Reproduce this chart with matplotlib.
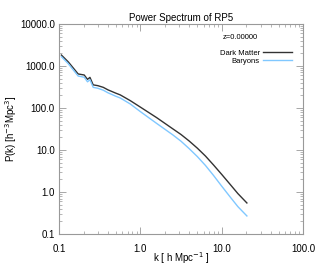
import numpy as np
import matplotlib
matplotlib.use("Agg")
import matplotlib.pyplot as plt
from matplotlib.ticker import FixedLocator, LogLocator, NullFormatter

plt.rcParams['font.family'] = ['Liberation Sans', 'DejaVu Sans']

# Спектр мощности
k = [0.107, 0.13, 0.172, 0.204, 0.224, 0.24, 0.263, 0.30, 0.35, 0.40,
     0.5, 0.566, 0.75, 1.0, 1.585, 2.5, 3.16, 3.98, 5.01, 6.31, 7.94, 10.0,
     12.6, 15.8, 20.4]
pk_dm = [1820, 1250, 645, 610, 480, 535, 355, 340, 310, 270,
         225, 205, 150, 105, 59, 32, 23.4, 16.4, 11.1, 7.2, 4.4, 2.63,
         1.55, 0.92, 0.55]
pk_bar = [1660, 1130, 575, 540, 420, 470, 310, 295, 265, 230,
          190, 173, 125, 82, 43, 23, 16.2, 10.8, 7.0, 4.3, 2.48, 1.38,
          0.78, 0.45, 0.27]

x_ticks = [0.1, 1.0, 10.0, 100.0]
x_labels = ["0.1", "1.0", "10.0", "100.0"]
y_ticks = [0.1, 1.0, 10.0, 100.0, 1000.0, 10000.0]
y_labels = ["0.1", "1.0", "10.0", "100.0", "1000.0", "10000.0"]

fig = plt.figure(figsize=(3.19, 2.66), dpi=100)
ax = fig.add_axes([0.185, 0.12, 0.765, 0.79])

ax.plot(k, pk_dm, color="#333333", linewidth=1.0, label="Dark Matter")
ax.plot(k, pk_bar, color="#80c8ff", linewidth=1.0, label="Baryons")

ax.set_xscale("log")
ax.set_yscale("log")
ax.set_xlim(0.1, 100)
ax.set_ylim(0.1, 10000)

ax.xaxis.set_major_locator(FixedLocator(x_ticks))
ax.set_xticklabels(x_labels)
ax.yaxis.set_major_locator(FixedLocator(y_ticks))
ax.set_yticklabels(y_labels)
ax.xaxis.set_minor_locator(LogLocator(base=10, subs=np.arange(2, 10)))
ax.yaxis.set_minor_locator(LogLocator(base=10, subs=np.arange(2, 10)))
ax.xaxis.set_minor_formatter(NullFormatter())
ax.yaxis.set_minor_formatter(NullFormatter())

ax.tick_params(which="both", direction="in", top=True, right=True,
               color="#999999", labelsize=7)
ax.tick_params(which="major", length=5, width=0.6)
ax.tick_params(which="minor", length=2.5, width=0.5)
ax.tick_params(axis="x", which="major", pad=7)
ax.tick_params(axis="y", which="major", pad=3)
for s in ax.spines.values():
    s.set_color("#999999")
    s.set_linewidth(0.8)

ax.set_title("Power Spectrum of RP5", fontsize=7, pad=2)
ax.set_xlabel("k [ h Mpc$^{-1}$ ]", fontsize=7)
ax.xaxis.set_label_coords(0.5, -0.114)
ax.xaxis.label.set_va("center")
ax.set_ylabel("P(k) [h$^{-3}$Mpc$^{3}$]", fontsize=7)
ax.yaxis.set_label_coords(-0.195, 0.5)
ax.yaxis.label.set_va("center")

ax.text(0.815, 0.935, "z=0.00000", transform=ax.transAxes, fontsize=5.5,
        ha="right", va="center")
ax.legend(loc="upper right", bbox_to_anchor=(0.961, 0.885), markerfirst=False,
          frameon=False, fontsize=5.5, handlelength=3.8, labelspacing=0.05,
          borderpad=0.2, handletextpad=0.4, borderaxespad=0.0)

fig.savefig("out.png", dpi=100)
